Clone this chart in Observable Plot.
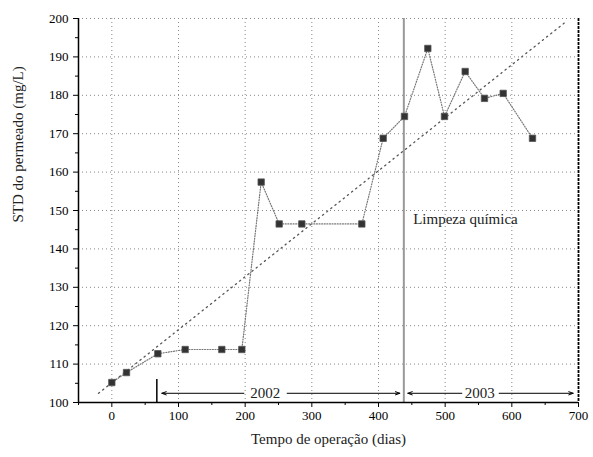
<!DOCTYPE html>
<html>
<head>
<meta charset="utf-8">
<script src="https://cdn.jsdelivr.net/npm/d3@7"></script>
<script src="https://cdn.jsdelivr.net/npm/@observablehq/plot@0.6"></script>
<style>
  body { margin: 0; background: white; }
  svg text { font-family: 'Liberation Serif', 'DejaVu Serif', serif; }
</style>
</head>
<body>
<div id="chart"></div>
<script>
// Data
const days = [0, 22, 69, 110, 165, 195, 224, 251, 285, 375, 407, 439, 474, 499, 530, 559, 587, 631];
const std  = [105.2, 107.8, 112.7, 113.8, 113.8, 113.8, 157.4, 146.5, 146.5, 146.5, 168.8, 174.5, 192.2, 174.5, 186.2, 179.2, 180.5, 168.8];

// Linear trend (dotted) endpoints
const trendX = [-20, 680];
const trendY = [102.4, 199];

// Chemical cleaning
const cleaningDay = [438];
const cleaningLabel = ["Limpeza química"];
const cleaningLabelPos = [{x: 452, y: 147.8}];

// Period annotations
const periodLabels = ["2002", "2003"];
const periodLabelX = [230, 552];
const periodY = 102.4;
const arrowFrom = [198, 263, 525, 581];
const arrowTo   = [75, 432, 444, 692];
const startTick = [67.5];

const xTicks = d3.range(0, 701, 100);
const xMinor = d3.range(-50, 701, 100);
const yTicks = d3.range(100, 201, 10);
const yMinor = d3.range(105, 200, 10);

const xTitle = "Tempo de operação (dias)";
const yTitle = "STD do permeado (mg/L)";

const pts = days.map((d, i) => ({day: d, std: std[i]}));
const trend = trendX.map((d, i) => ({x: d, y: trendY[i]}));
const arrows = arrowFrom.map((d, i) => ({x1: d, x2: arrowTo[i]}));
const periods = periodLabels.map((t, i) => ({t, x: periodLabelX[i]}));

const serif = "'Liberation Serif', 'DejaVu Serif', serif";

const chart = Plot.plot({
  width: 593,
  height: 457,
  marginLeft: 78,
  marginRight: 15,
  marginTop: 18,
  marginBottom: 55,
  x: {domain: [-50, 700]},
  y: {domain: [100, 200]},
  style: {fontFamily: serif, fontSize: "13px", background: "white", color: "black"},
  marks: [
    // grid
    Plot.ruleX(xTicks.filter(d => d < 700), {stroke: "#888", strokeDasharray: "1,3", strokeWidth: 1}),
    Plot.ruleY(yTicks.filter(d => d > 100), {stroke: "#888", strokeDasharray: "1,3", strokeWidth: 1}),
    // trend
    Plot.line(trend, {x: "x", y: "y", stroke: "#555", strokeWidth: 1.3, strokeDasharray: "1.3,4"}),
    // cleaning line
    Plot.ruleX(cleaningDay, {stroke: "#999", strokeWidth: 2}),
    Plot.text(cleaningLabelPos, {x: "x", y: "y", text: () => cleaningLabel[0], textAnchor: "start", fontSize: 15, fontFamily: serif, fill: "#222"}),
    // series
    Plot.line(pts, {x: "day", y: "std", stroke: "#777", strokeWidth: 1.2, strokeDasharray: "1,1.6"}),
    Plot.dot(pts, {x: "day", y: "std", symbol: "square", r: 3.6, fill: "#333", stroke: "#555", strokeWidth: 0.8}),
    // periods
    Plot.ruleX(startTick, {y1: 100, y2: 106, stroke: "black", strokeWidth: 1.5}),
    Plot.arrow(arrows, {x1: "x1", x2: "x2", y1: periodY, y2: periodY, stroke: "black", strokeWidth: 1, headLength: 7, headAngle: 40}),
    Plot.text(periods, {x: "x", y: periodY, text: "t", fontSize: 15, fontFamily: serif, fill: "#222"}),
    // frame
    Plot.ruleX([700], {stroke: "black", strokeWidth: 1.8, strokeDasharray: "3,1"}),
    Plot.ruleX([-50], {stroke: "black", strokeWidth: 1.5}),
    Plot.ruleY([100], {stroke: "black", strokeWidth: 1.5}),
    // axes
    Plot.axisX({ticks: xTicks, tickSize: 5, tickPadding: 3, label: null, fontSize: 13, fontFamily: serif}),
    Plot.axisX({ticks: xMinor, tickSize: 3, tickFormat: () => "", label: null}),
    Plot.axisY({ticks: yTicks, tickSize: 5, tickPadding: 5, label: null, fontSize: 13, fontFamily: serif}),
    Plot.axisY({ticks: yMinor, tickSize: 3, tickFormat: () => "", label: null}),
    // titles
    Plot.text([xTitle], {frameAnchor: "bottom", dy: 41, text: d => d, fontSize: 15, fontFamily: serif, fill: "#222"}),
    Plot.text([yTitle], {frameAnchor: "left", dx: -60, dy: 12, rotate: -90, text: d => d, fontSize: 15, fontFamily: serif, fill: "#222"})
  ]
});
document.getElementById("chart").append(chart);
</script>
</body>
</html>
